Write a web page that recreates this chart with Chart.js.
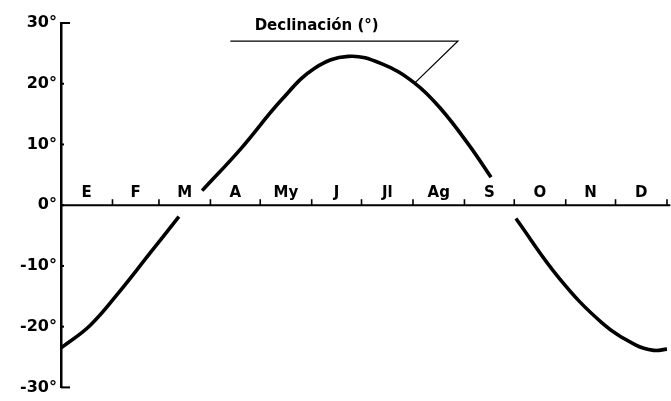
<!DOCTYPE html>
<html>
<head>
<meta charset="utf-8">
<script src="https://cdn.jsdelivr.net/npm/chart.js@4.4.1/dist/chart.umd.min.js"></script>
<style>
  html, body { margin: 0; padding: 0; background: #fff; }
  #wrap { width: 671px; height: 401px; position: relative; }
</style>
</head>
<body>
<div id="wrap"><canvas id="declChart"></canvas></div>
<script>
// month labels (Spanish abbreviations) and month boundaries in day of year
const monthLabels = ['E', 'F', 'M', 'A', 'My', 'J', 'Jl', 'Ag', 'S', 'O', 'N', 'D'];
const monthEnds = [0, 31, 59, 90, 120, 151, 181, 212, 243, 273, 304, 334, 365];

// declination curve (three pieces, broken at the month row)
const winterDays = [0, 17.5, 35, 53, 71];
const winterDecl = [-23.5, -19.8, -14.3, -8.1, -1.9];
const summerDays = [85, 108, 133, 153, 173, 193, 213, 229, 246, 259];
const summerDecl = [2.4, 9.2, 17.4, 22.6, 24.5, 23.3, 20.1, 15.8, 9.8, 4.6];
const autumnDays = [274, 300, 326, 346, 357, 365];
const autumnDecl = [-2.2, -12.0, -19.4, -23.0, -23.9, -23.7];

const yTicks = [-30, -20, -10, 0, 10, 20, 30];
const legendText = 'Declinación (°)';

const FONT = '"DejaVu Sans", "Liberation Sans", sans-serif';

function toPoints(days, vals) {
    return days.map((d, i) => ({ x: d, y: vals[i] }));
}

function lineSet(days, vals) {
    return {
        data: toPoints(days, vals),
        borderColor: '#000',
        borderWidth: 3.6,
        pointRadius: 0,
        fill: false,
        tension: 0.4,
        borderCapStyle: 'butt'
    };
}

// draws the zero line with month ticks/labels, y tick stubs and the label leader
const decorPlugin = {
    id: 'decor',
    afterDatasetsDraw(chart) {
        const ctx = chart.ctx;
        const xs = chart.scales.x, ys = chart.scales.y;
        const y0 = ys.getPixelForValue(0);
        ctx.save();
        ctx.strokeStyle = '#000';
        ctx.fillStyle = '#000';

        // zero axis
        ctx.lineWidth = 2;
        ctx.beginPath();
        ctx.moveTo(xs.getPixelForValue(0), y0);
        ctx.lineTo(xs.getPixelForValue(367), y0);
        ctx.stroke();

        // month boundary ticks
        ctx.lineWidth = 1.6;
        monthEnds.slice(1).forEach(d => {
            const px = xs.getPixelForValue(d);
            ctx.beginPath();
            ctx.moveTo(px, y0);
            ctx.lineTo(px, y0 - 6);
            ctx.stroke();
        });

        // month labels
        ctx.font = 'bold 15px ' + FONT;
        ctx.textAlign = 'center';
        ctx.textBaseline = 'alphabetic';
        monthLabels.forEach((m, i) => {
            const mid = (monthEnds[i] + monthEnds[i + 1]) / 2;
            ctx.fillText(m, xs.getPixelForValue(mid), y0 - 8);
        });

        // small tick stubs on the y axis
        const left = xs.getPixelForValue(0);
        ctx.lineWidth = 2;
        yTicks.forEach(v => {
            const py = ys.getPixelForValue(v);
            const len = Math.abs(v) === 30 ? 9 : 3;
            ctx.beginPath();
            ctx.moveTo(left, py);
            ctx.lineTo(left + len, py);
            ctx.stroke();
        });

        // curve label with underline and leader
        const lx1 = xs.getPixelForValue(102), lx2 = xs.getPixelForValue(239);
        const ly = ys.getPixelForValue(27);
        ctx.lineWidth = 1.3;
        ctx.beginPath();
        ctx.moveTo(lx1, ly);
        ctx.lineTo(lx2, ly);
        ctx.lineTo(xs.getPixelForValue(summerDays[6]), ys.getPixelForValue(summerDecl[6]));
        ctx.stroke();
        ctx.font = 'bold 15px ' + FONT;
        ctx.textAlign = 'center';
        ctx.fillText(legendText, xs.getPixelForValue(154), ly - 11);

        ctx.restore();
    }
};

new Chart(document.getElementById('declChart'), {
    type: 'line',
    data: {
        datasets: [
            lineSet(winterDays, winterDecl),
            lineSet(summerDays, summerDecl),
            lineSet(autumnDays, autumnDecl)
        ]
    },
    options: {
        responsive: true,
        maintainAspectRatio: false,
        animation: false,
        layout: { padding: { top: 23, right: 4, bottom: 11, left: 0 } },
        plugins: { legend: { display: false }, tooltip: { enabled: false } },
        scales: {
            x: {
                type: 'linear',
                min: 0,
                max: 365,
                display: false
            },
            y: {
                min: -30,
                max: 30,
                afterFit(scale) { scale.width = 61; },
                afterBuildTicks(scale) { scale.ticks = yTicks.map(v => ({ value: v })); },
                grid: { display: false, drawTicks: false },
                border: { display: true, color: '#000', width: 2.5 },
                ticks: {
                    color: '#000',
                    padding: 4,
                    font: { family: FONT, size: 16, weight: 'bold' },
                    callback: v => v + '°'
                }
            }
        }
    },
    plugins: [decorPlugin]
});
</script>
</body>
</html>
